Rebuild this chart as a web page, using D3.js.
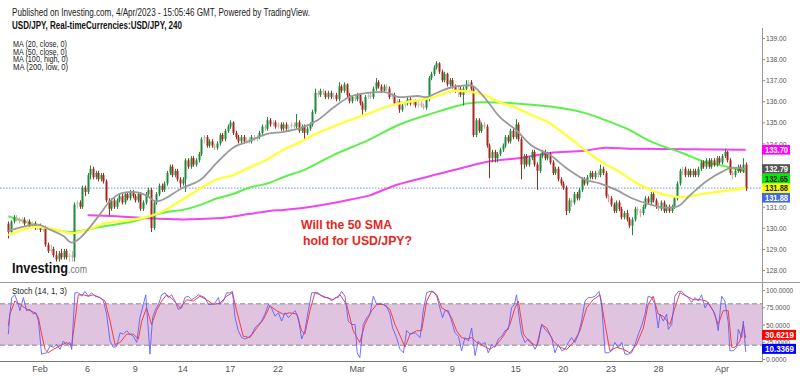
<!DOCTYPE html>
<html>
<head>
<meta charset="utf-8">
<script src="https://cdn.jsdelivr.net/npm/d3@7"></script>
<style>
  body { margin: 0; background: #fff; }
  svg { display: block; font-family: Arial, "Liberation Sans", sans-serif; }
</style>
</head>
<body>
<svg id="chart" width="800" height="376"></svg>
<script>
// ---- data (USD/JPY 4h candles, Jan 30 -> Apr 4 2023), [open, high, low, close]
const candles = [
  [130.2,130.3,129.5,129.8],[129.8,130.35,129.7,130.3],[130.3,130.6,130.2,130.5],[130.5,130.6,130.3,130.4],[130.4,130.5,130.2,130.3],[130.3,130.5,130.2,130.4],
  [130.4,130.5,130.1,130.2],[130.2,130.4,130.1,130.3],[130.3,130.4,130.0,130.1],[130.1,130.3,130.0,130.2],[130.2,130.3,129.9,130.0],[130.0,130.2,129.9,130.1],
  [130.1,130.2,129.8,129.9],[129.9,130.1,129.8,130.0],[130.0,130.1,129.1,129.2],[129.2,129.3,128.8,128.9],[128.9,129.2,128.8,129.0],[129.0,129.1,128.6,128.7],
  [128.7,128.9,128.4,128.5],[128.5,128.9,128.4,128.8],[128.8,129.0,128.5,128.6],[128.6,129.0,128.5,128.9],[128.9,129.0,128.5,128.6],[128.6,128.8,128.4,128.7],
  [128.7,128.9,128.4,128.6],[128.6,131.2,128.4,131.1],[131.1,131.3,130.9,131.2],[131.2,131.3,130.9,131.0],[131.0,132.0,130.9,131.9],[131.9,132.0,131.5,131.7],
  [131.7,132.6,131.6,132.5],[132.5,132.95,132.3,132.8],[132.8,132.9,132.3,132.4],[132.4,132.7,132.3,132.6],[132.6,132.7,132.2,132.3],[132.3,132.6,132.2,132.5],
  [132.5,132.6,132.1,132.2],[132.2,132.3,131.2,131.3],[131.3,131.4,130.6,130.9],[130.9,131.4,130.8,131.3],[131.3,131.4,130.9,131.0],[131.0,131.4,130.9,131.3],
  [131.3,131.6,131.2,131.5],[131.5,131.6,131.1,131.2],[131.2,131.7,131.1,131.6],[131.6,131.7,131.3,131.4],[131.4,131.8,131.3,131.7],[131.7,131.8,131.4,131.5],
  [131.5,131.6,131.2,131.3],[131.3,131.7,131.2,131.6],[131.6,131.7,130.8,130.9],[130.9,131.3,130.8,131.2],[131.2,131.7,131.1,131.6],[131.6,131.9,131.5,131.8],
  [131.8,131.9,129.8,130.0],[130.0,131.3,129.9,131.2],[131.2,131.7,131.1,131.6],[131.6,132.1,131.5,132.0],[132.0,132.1,131.7,131.8],[131.8,132.2,131.7,132.1],
  [132.1,132.7,132.0,132.6],[132.6,133.0,132.5,132.9],[132.9,133.0,132.4,132.5],[132.5,132.8,132.4,132.7],[132.7,132.8,132.2,132.3],[132.3,132.4,131.9,132.1],
  [132.1,132.4,132.0,132.3],[132.3,133.3,131.7,133.2],[133.2,133.3,132.8,132.9],[132.9,133.4,132.8,133.3],[133.3,133.4,132.9,133.0],[133.0,133.3,132.9,133.2],
  [133.2,133.6,133.1,133.5],[133.5,134.3,133.4,134.2],[134.2,134.4,134.0,134.3],[134.3,134.4,133.8,133.9],[133.9,134.2,133.8,134.1],[134.1,134.2,133.8,133.9],
  [133.9,134.0,133.7,133.8],[133.8,134.1,133.7,134.0],[134.0,134.5,133.9,134.4],[134.4,134.5,134.1,134.2],[134.2,134.7,134.1,134.6],[134.6,134.9,134.5,134.8],
  [134.8,135.1,134.7,135.0],[135.0,135.05,134.4,134.5],[134.5,134.6,134.2,134.3],[134.3,134.4,134.0,134.1],[134.1,134.4,134.0,134.3],[134.3,134.4,134.0,134.1],
  [134.1,134.3,134.0,134.2],[134.2,134.3,134.0,134.1],[134.1,134.4,134.0,134.3],[134.3,134.4,134.1,134.2],[134.2,134.4,134.1,134.3],[134.3,134.6,134.2,134.5],
  [134.5,134.9,134.4,134.8],[134.8,134.9,134.6,134.7],[134.7,135.25,134.6,135.1],[135.1,135.2,134.8,134.9],[134.9,135.1,134.8,135.0],[135.0,135.1,134.7,134.8],
  [134.8,135.0,134.7,134.9],[134.9,135.0,134.6,134.7],[134.7,135.0,134.6,134.9],[134.9,135.0,134.6,134.7],[134.7,134.9,134.6,134.8],[134.8,135.0,134.7,134.9],
  [134.9,135.0,134.7,134.8],[134.8,135.4,134.7,135.0],[135.0,135.1,134.5,134.6],[134.6,134.9,134.5,134.8],[134.8,134.9,134.2,134.5],[134.5,134.8,134.4,134.7],
  [134.7,135.0,134.6,134.9],[134.9,135.6,134.8,135.5],[135.5,136.6,135.4,136.4],[136.4,136.5,136.2,136.3],[136.3,136.6,136.2,136.5],[136.5,136.6,136.3,136.4],
  [136.4,136.5,136.1,136.2],[136.2,136.5,136.1,136.4],[136.4,136.5,136.1,136.2],[136.2,136.4,136.1,136.3],[136.3,136.4,136.0,136.1],[136.1,136.9,136.0,136.7],
  [136.7,136.8,136.4,136.5],[136.5,136.9,136.4,136.8],[136.8,136.85,136.2,136.3],[136.3,136.4,135.9,136.0],[136.0,136.3,135.9,136.2],[136.2,136.3,136.0,136.1],
  [136.1,136.4,136.0,136.3],[136.3,136.4,135.8,135.9],[135.9,136.0,135.35,135.6],[135.6,136.3,135.5,136.2],[136.2,136.45,136.1,136.3],[136.3,136.4,136.1,136.2],
  [136.2,136.7,136.1,136.6],[136.6,137.1,136.5,136.9],[136.9,137.0,136.6,136.7],[136.7,136.8,136.4,136.5],[136.5,136.8,136.4,136.7],[136.7,136.8,136.5,136.6],
  [136.6,136.7,136.1,136.2],[136.2,136.4,136.1,136.3],[136.3,136.4,135.8,135.9],[135.9,136.1,135.8,136.0],[136.0,136.1,135.45,135.6],[135.6,135.9,135.5,135.8],
  [135.8,136.0,135.7,135.9],[135.9,136.2,135.8,136.1],[136.1,136.2,135.8,135.9],[135.9,136.1,135.8,136.0],[136.0,136.1,135.7,135.8],[135.8,136.0,135.7,135.9],
  [135.9,136.0,135.7,135.8],[135.8,135.9,135.6,135.7],[135.7,136.2,135.6,136.1],[136.1,137.2,136.0,137.1],[137.1,137.4,137.0,137.3],[137.3,137.7,137.2,137.6],
  [137.6,137.9,137.5,137.8],[137.8,137.85,137.3,137.4],[137.4,137.5,136.9,137.0],[137.0,137.4,136.9,137.3],[137.3,137.35,136.7,136.8],[136.8,137.1,136.7,137.0],
  [137.0,137.1,136.6,136.7],[136.7,136.8,136.4,136.5],[136.5,136.7,136.2,136.6],[136.6,136.7,136.2,136.3],[136.3,136.7,135.8,136.6],[136.6,137.0,136.5,136.8],
  [136.8,137.0,136.7,136.9],[136.9,137.0,136.5,136.6],[136.6,136.7,134.3,134.4],[134.4,135.2,134.3,135.1],[135.1,135.2,134.5,134.6],[134.6,135.0,134.5,134.9],
  [134.9,135.0,134.7,134.8],[134.8,134.9,133.8,133.9],[133.9,134.0,132.35,133.3],[133.3,133.7,133.1,133.6],[133.6,133.7,133.1,133.3],[133.3,133.6,133.1,133.5],
  [133.5,133.8,133.4,133.7],[133.7,134.0,133.6,133.9],[133.9,134.4,133.8,134.3],[134.3,134.4,134.0,134.1],[134.1,134.7,134.0,134.6],[134.6,134.7,134.2,134.3],
  [134.3,135.15,134.2,134.9],[134.9,135.0,134.1,134.2],[134.2,134.3,132.3,133.0],[133.0,133.5,132.8,133.4],[133.4,133.5,132.9,133.0],[133.0,133.4,132.9,133.3],
  [133.3,133.7,133.2,133.6],[133.6,133.7,132.9,133.0],[133.0,133.1,131.8,132.7],[132.7,133.5,132.6,133.4],[133.4,133.7,133.3,133.6],[133.6,133.7,133.2,133.3],
  [133.3,133.6,133.2,133.5],[133.5,133.6,133.0,133.1],[133.1,133.2,132.5,132.6],[132.6,132.9,132.5,132.8],[132.8,132.9,132.2,132.3],[132.3,132.4,132.0,132.1],
  [132.1,132.2,131.8,131.9],[131.9,132.0,130.6,130.8],[130.8,131.4,130.7,131.3],[131.3,131.4,131.0,131.2],[131.2,131.7,131.1,131.6],[131.6,131.7,131.3,131.4],
  [131.4,131.9,131.3,131.8],[131.8,132.4,131.7,132.3],[132.3,132.4,132.0,132.1],[132.1,132.5,132.0,132.4],[132.4,132.7,132.3,132.6],[132.6,132.7,132.3,132.4],
  [132.4,132.7,132.3,132.6],[132.6,132.7,132.4,132.5],[132.5,133.0,132.4,132.8],[132.8,132.9,132.5,132.6],[132.6,132.7,131.4,131.5],[131.5,131.6,131.2,131.4],
  [131.4,131.5,131.0,131.1],[131.1,131.2,130.7,130.8],[130.8,131.3,130.7,131.2],[131.2,131.3,130.8,130.9],[130.9,131.0,130.4,130.5],[130.5,130.8,130.4,130.7],
  [130.7,130.85,130.3,130.4],[130.4,130.5,130.0,130.1],[130.1,130.5,129.65,130.4],[130.4,131.0,130.3,130.9],[130.9,131.0,130.6,130.8],[130.8,130.9,130.5,130.7],
  [130.7,131.1,130.6,131.0],[131.0,131.5,130.9,131.4],[131.4,131.5,131.1,131.2],[131.2,131.7,131.1,131.6],[131.6,131.7,131.2,131.3],[131.3,131.4,130.9,131.0],
  [131.0,131.2,130.8,130.9],[130.9,131.3,130.8,131.2],[131.2,131.3,130.7,130.8],[130.8,131.1,130.7,131.0],[131.0,131.1,130.7,130.8],[130.8,131.1,130.7,131.0],
  [131.0,131.5,130.9,131.4],[131.4,132.2,131.3,132.1],[132.1,132.8,132.0,132.7],[132.7,132.9,132.5,132.8],[132.8,132.9,132.4,132.5],[132.5,132.8,132.4,132.7],
  [132.7,132.8,132.4,132.5],[132.5,132.8,132.4,132.7],[132.7,132.8,132.4,132.5],[132.5,132.9,132.4,132.8],[132.8,133.2,132.7,133.1],[133.1,133.2,132.8,132.9],
  [132.9,133.3,132.8,133.2],[133.2,133.3,132.8,132.9],[132.9,133.3,132.8,133.2],[133.2,133.3,132.9,133.0],[133.0,133.4,132.9,133.3],[133.3,133.4,133.0,133.1],
  [133.1,133.5,133.0,133.4],[133.4,133.75,133.3,133.6],[133.6,133.65,133.1,133.2],[133.2,133.3,132.5,132.6],[132.6,132.7,132.3,132.5],[132.5,132.8,132.4,132.7],
  [132.7,133.0,132.6,132.9],[132.9,133.0,132.6,132.7],[132.7,133.3,132.6,133.0],[133.0,133.1,131.75,131.88]
];

// x-axis ticks: candle index of the first bar of the labelled day
const tickIdx = [12, 30, 48, 66, 84, 102, 132, 150, 168, 192, 210, 228, 246, 270];
const tickText = ["Feb", "6", "9", "14", "17", "22", "Mar", "6", "9", "15", "20", "23", "28", "Apr"];

// moving averages as [candle index, value]
const ma20 = [[0,129.85],[4,130.0],[11,130.15],[16,129.9],[21,129.6],[24,129.3],[27,129.5],[31,130.05],[35,130.7],[38,131.2],
  [43,131.65],[47,131.7],[52,131.55],[56,131.25],[66,131.9],[73,132.3],[79,133.1],[85,133.8],[91,134.1],[98,134.45],
  [104,134.55],[111,134.75],[117,135.1],[123,135.7],[129,136.2],[136,136.4],[142,136.45],[148,136.2],[155,136.25],[158,136.2],
  [163,136.45],[169,136.7],[175,136.75],[180,136.2],[186,135.25],[192,134.65],[198,133.9],[205,133.45],[211,132.85],[218,132.3],
  [224,132.1],[230,131.8],[236,131.4],[243,131.1],[249,130.95],[253,131.0],[258,131.55],[264,132.2],[270,132.65],[274,132.85],[279,132.79]];
const ma50 = [[0,129.65],[4,129.85],[11,130.05],[17,129.95],[24,129.75],[30,129.9],[36,130.2],[45,130.35],[52,130.5],[58,130.75],
  [66,131.35],[73,131.9],[79,132.3],[85,132.5],[91,132.85],[98,133.25],[104,133.7],[111,134.1],[117,134.5],[123,134.8],
  [129,135.1],[136,135.4],[142,135.7],[148,135.9],[155,136.05],[161,136.2],[169,136.5],[175,136.45],[180,136.3],[186,135.95],
  [192,135.7],[198,135.35],[205,134.95],[211,134.4],[218,133.7],[226,133.0],[230,132.75],[236,132.25],[243,131.8],[249,131.55],
  [255,131.45],[262,131.6],[268,131.7],[279,131.88]];
const ma100 = [[0,130.55],[9,130.2],[24,129.8],[35,130.05],[47,130.3],[60,130.75],[66,130.85],[73,131.1],[79,131.4],[85,131.6],
  [91,131.9],[98,132.1],[104,132.4],[112,132.75],[123,133.45],[136,134.15],[148,134.9],[161,135.45],[169,135.75],[174,135.9],
  [180,135.95],[192,135.9],[205,135.75],[218,135.45],[226,135.1],[234,134.7],[243,134.1],[255,133.55],[264,133.1],[272,132.9],[279,132.65]];
const ma200 = [[30,130.6],[41,130.55],[53,130.45],[66,130.4],[79,130.45],[91,130.65],[99,130.8],[104,130.85],[112,130.95],[130,131.35],
  [137,131.55],[145,131.95],[158,132.4],[169,132.75],[180,133.1],[196,133.35],[205,133.55],[218,133.65],[226,133.8],[236,133.75],[279,133.7]];

// stochastic (14,1,3): %K and %D as [candle index, value]
const stochK = [[0,36],[0.6,65],[1.3,89],[2.5,93],[3.8,79],[4.4,70],[5.7,89],[6.9,70],[8.2,72],[9.5,65],[10.5,67],[11.4,55],[12.6,7],
  [14.5,9],[15.8,19],[17,17],[18.3,21],[19.6,14],[20.8,26],[22.1,21],[23.3,24],[24,14],[25.2,96],[26.5,96],[27.8,91],[29,98],
  [30.3,91],[31.5,96],[32.8,91],[34.7,89],[36,84],[37.2,65],[38.5,26],[39.7,17],[41,18],[42.3,38],[43.5,36],[44.8,41],[46,36],
  [47.3,33],[48.6,24],[49.8,60],[51.1,79],[52,93],[53,41],[53.6,7],[54.6,60],[55.5,70],[56.8,79],[58,93],[59.3,96],[60.5,89],
  [61.8,93],[63.1,84],[64.3,72],[65.6,74],[66.8,89],[68.1,91],[69.4,86],[70.6,89],[71.9,93],[73.2,91],[74.4,89],[75.7,79],
  [76.9,79],[78.2,81],[79.5,89],[80.1,79],[81.4,84],[82.6,96],[83.9,96],[84.8,98],[85.8,60],[87,41],[88.3,31],[89.5,29],
  [90.8,31],[92.1,36],[93.3,45],[94.6,50],[95.8,55],[97.1,65],[98.4,79],[99.6,74],[100.9,62],[102.2,67],[103.4,55],[104.7,67],
  [106,60],[107.2,65],[108.5,70],[109.7,60],[111,29],[112.2,41],[113.5,70],[114.8,96],[116,96],[117.3,96],[118.5,91],[119.8,89],
  [121.1,89],[122.3,84],[123.6,89],[124.8,89],[126.1,98],[127.4,91],[128.6,55],[129.9,50],[131.2,50],[132,9],[133,2],[134.3,50],
  [135.6,60],[136.8,65],[138.1,91],[139.4,79],[140.6,81],[141.9,79],[143.1,77],[144.4,65],[145.4,45],[146.9,31],[148.2,14],
  [149.5,9],[150.7,41],[152,36],[153.9,38],[155.8,31],[157,70],[158.3,96],[159.5,98],[160.8,98],[162.1,91],[163.3,74],[164.3,60],
  [165.2,70],[166.5,70],[167.7,55],[169,38],[170.3,33],[171.5,12],[172.8,31],[174.1,26],[175.3,45],[176.6,5],[177.8,26],
  [179.1,21],[180.4,24],[181.6,9],[182.9,21],[184.1,17],[185.4,29],[186.7,33],[187.9,41],[189.2,43],[190.4,74],[191.5,79],
  [192.3,93],[193.3,60],[194.2,36],[195.5,24],[196.7,29],[198,24],[199.3,14],[200.5,24],[201.8,50],[203.1,43],[204.3,38],
  [205.6,31],[206.8,9],[208.1,21],[209.4,12],[210.6,14],[211.9,24],[213.1,31],[214.4,24],[215.7,36],[216.9,55],[218.2,84],
  [219.4,89],[220.7,89],[222,91],[223.5,98],[224.5,79],[225.8,9],[227,9],[228.3,12],[229.5,24],[230.8,17],[232.1,24],[233.3,7],
  [234.6,7],[235.8,9],[237.1,21],[238.4,36],[239.6,48],[240.9,65],[242.1,91],[243.4,89],[244.7,79],[245.9,45],[246.6,65],
  [247.8,55],[249.1,65],[249.7,43],[251,50],[252.2,91],[253.5,98],[254.8,98],[256,93],[257.3,89],[258.5,82],[259.8,89],
  [261.1,84],[262.3,93],[263.6,74],[264.8,82],[266.1,74],[267.4,65],[268.6,41],[269.9,91],[271.1,84],[272.4,53],[273,12],
  [274.3,12],[275.6,17],[276.2,43],[277.5,31],[278.1,55],[279,10.34]];
const stochD = [[0,48],[0.6,65],[2.5,84],[4.4,79],[6.3,74],[8.2,70],[10.1,67],[11.4,60],[12.6,36],[13.9,14],[15.1,9],[17,14],
  [19.6,19],[22.1,24],[24,19],[25.2,55],[26.5,93],[28.4,93],[30.3,91],[32.2,93],[34.7,89],[36.6,84],[38.5,55],[40.4,21],
  [42.3,24],[44.8,36],[47.3,36],[49.2,29],[50.5,55],[52.3,74],[54.2,50],[56.1,70],[58,84],[59.9,93],[62.4,86],[65,74],
  [67.5,86],[70,84],[72.5,91],[75,86],[77.6,79],[80.1,81],[82.6,91],[84.8,96],[86.4,70],[88.9,33],[91.4,31],[94,45],
  [96.5,57],[99,77],[101.5,70],[104,65],[106.6,67],[109.1,65],[111,41],[112.2,36],[114.1,70],[116,96],[117.9,93],[120.4,89],
  [123,86],[125.5,93],[128,79],[130.5,41],[133,24],[134.9,50],[137.5,70],[139.4,79],[141.9,79],[144.4,72],[146.3,50],[148.2,34],
  [150.1,17],[152,36],[154.5,41],[156.4,41],[158.3,84],[160.2,98],[162.1,93],[164,74],[165.9,70],[167.7,60],[169.6,41],
  [171.5,31],[173.4,29],[175.3,31],[177.2,24],[179.7,19],[182.2,14],[184.8,21],[187.3,33],[189.8,50],[191.7,74],[193,84],
  [194.9,36],[197.4,24],[199.9,19],[201.8,50],[203.7,45],[206.2,26],[208.7,17],[211.3,14],[213.8,24],[216.3,41],[218.8,74],
  [221.3,86],[223.9,93],[225.8,50],[227.6,12],[230.2,17],[232.7,14],[235.2,9],[237.7,21],[240.3,45],[242.1,79],[244,91],
  [245.9,65],[247.8,62],[250.3,50],[252.2,74],[254.1,96],[256.6,91],[259.2,86],[261.7,86],[264.2,84],[266.7,70],[268.6,50],
  [270.5,70],[272.4,70],[273.7,17],[274.9,17],[276.8,26],[278.1,50],[279,30.62]];

// last-value tags on the price axis
const priceTags = [133.70, 132.79, 132.65, 131.88, 131.88];
const stochTags = [30.6219, 10.3369];

const priceTicks = d3.range(128, 140, 1);
const stochTicks = [0, 25, 50, 75, 100];

const maLegend = ["MA (20, close, 0)", "MA (50, close, 0)", "MA (100, high, 0)", "MA (200, low, 0)"];

// ---- drawing
const svg = d3.select("#chart");
const W = 800, axisX = 762;

const x = d3.scaleLinear().domain([0, 279]).range([8.3, 745.7]);
const y = d3.scaleLinear().domain([128, 139]).range([270, 38]);
const ys = d3.scaleLinear().domain([0, 100]).range([359, 290]);

const gray = "#555";

// header texts
svg.append("text").attr("x", 12).attr("y", 16)
  .attr("font-size", 10).attr("fill", "#222")
  .attr("textLength", 298).attr("lengthAdjust", "spacingAndGlyphs")
  .text("Published on Investing.com, 4/Apr/2023 - 15:05:46 GMT, Powered by TradingView.");
svg.append("text").attr("x", 12).attr("y", 29)
  .attr("font-size", 10).attr("font-weight", "bold").attr("fill", "#111")
  .attr("textLength", 170).attr("lengthAdjust", "spacingAndGlyphs")
  .text("USD/JPY, Real-timeCurrencies:USD/JPY, 240");
svg.append("g").selectAll("text").data(maLegend).enter().append("text")
  .attr("x", 13).attr("y", (d, i) => 47 + i * 7.6)
  .attr("font-size", 9).attr("fill", "#222")
  .attr("textLength", (d, i) => i < 2 ? 54 : 55).attr("lengthAdjust", "spacingAndGlyphs")
  .text(d => d);

// stochastic band
svg.append("rect").attr("x", 0).attr("width", axisX)
  .attr("y", ys(80)).attr("height", ys(20) - ys(80))
  .attr("fill", "#dfc3df");
[80, 20].forEach(v => {
  svg.append("line").attr("x1", 0).attr("x2", axisX).attr("y1", ys(v)).attr("y2", ys(v))
    .attr("stroke", "#8a8a8a").attr("stroke-dasharray", "5,3");
});

// panel lines
svg.append("line").attr("x1", 0).attr("x2", W).attr("y1", 282.5).attr("y2", 282.5).attr("stroke", "#999");
svg.append("line").attr("x1", 0).attr("x2", axisX).attr("y1", 361.5).attr("y2", 361.5).attr("stroke", "#777");

// last price dotted line
const lastClose = candles[candles.length - 1][3];
svg.append("line").attr("x1", 0).attr("x2", axisX).attr("y1", y(lastClose)).attr("y2", y(lastClose))
  .attr("stroke", "#8fa7ee").attr("stroke-width", 1.2).attr("stroke-dasharray", "1.5,1.5");

// moving averages
const maLine = d3.line().x(d => x(d[0])).y(d => y(d[1])).curve(d3.curveMonotoneX);
const maStyles = [
  { data: ma200, color: "#f046f0", w: 2 },
  { data: ma100, color: "#5ef04a", w: 2 },
  { data: ma50, color: "#ffff3c", w: 2.4 },
  { data: ma20, color: "#9a9a9a", w: 1.8 }
];

// candles
const upC = "#1f8a3a", downC = "#a9271f", paleUp = "#b3cdb9", paleDown = "#d2aaa6";
const candleColor = d => {
  const body = Math.abs(d[3] - d[0]);
  if (d[3] >= d[0]) return body < 0.12 ? paleUp : upC;
  return body < 0.12 ? paleDown : downC;
};

maStyles.slice(0, 2).forEach(s => {
  svg.append("path").datum(s.data).attr("d", maLine)
    .attr("fill", "none").attr("stroke", s.color).attr("stroke-width", s.w);
});

const cg = svg.append("g");
cg.selectAll("line").data(candles).enter().append("line")
  .attr("x1", (d, i) => Math.round(x(i)) + 0.5).attr("x2", (d, i) => Math.round(x(i)) + 0.5)
  .attr("y1", d => y(d[1])).attr("y2", d => y(d[2]))
  .attr("stroke", candleColor).attr("stroke-width", 1);
cg.selectAll("rect").data(candles).enter().append("rect")
  .attr("x", (d, i) => Math.round(x(i)) - 0.5).attr("width", 2)
  .attr("y", d => y(Math.max(d[0], d[3])))
  .attr("height", d => Math.max(1, Math.abs(y(d[0]) - y(d[3]))))
  .attr("fill", candleColor);

maStyles.slice(2).forEach(s => {
  svg.append("path").datum(s.data).attr("d", maLine)
    .attr("fill", "none").attr("stroke", s.color).attr("stroke-width", s.w);
});

// stochastic lines
const sLine = d3.line().x(d => x(d[0])).y(d => ys(d[1]));
svg.append("path").datum(stochD).attr("d", sLine)
  .attr("fill", "none").attr("stroke", "#ff3b3b").attr("stroke-width", 1);
svg.append("path").datum(stochK).attr("d", sLine)
  .attr("fill", "none").attr("stroke", "#5a5aff").attr("stroke-width", 1).attr("opacity", 0.85);

svg.append("text").attr("x", 12).attr("y", 294)
  .attr("font-size", 9).attr("fill", "#222")
  .attr("textLength", 55).attr("lengthAdjust", "spacingAndGlyphs")
  .text("Stoch (14, 1, 3)");

// value tags, stacked so they do not overlap
const tagStyle = [
  { bg: "#ff00ff", fg: "#fff" }, { bg: "#555555", fg: "#fff" }, { bg: "#00ee00", fg: "#222" },
  { bg: "#ffff00", fg: "#222" }, { bg: "#4169e1", fg: "#fff" }
];
const tagH = 9.6;
let prevY = -100;
const priceTagPos = priceTags.map(v => {
  const cy = Math.max(y(v), prevY + tagH);
  prevY = cy;
  return cy;
});
let prevS = -100;
const stochTagPos = stochTags.map(v => {
  const cy = Math.max(ys(v) - 3, prevS + 12);
  prevS = cy;
  return cy;
});

// right axes (tick labels sitting under a tag are hidden by it, so they are left out)
const hidden = (py, tags, h) => tags.some(c => Math.abs(py - c) < h / 2 + 1);
const visiblePriceTicks = priceTicks.filter(v => !hidden(y(v), priceTagPos, tagH));
const fmtP = d3.format(".2f"), fmtS = d3.format(".4f");

const priceAxis = svg.append("g").attr("transform", `translate(${axisX},0)`)
  .call(d3.axisRight(y).tickValues(visiblePriceTicks).tickFormat(fmtP).tickSize(3).tickPadding(1));
const stochAxis = svg.append("g").attr("transform", `translate(${axisX},0)`)
  .call(d3.axisRight(ys).tickValues(stochTicks).tickFormat(fmtS).tickSize(3).tickPadding(1));
[priceAxis, stochAxis].forEach(a => {
  a.select(".domain").remove();
  a.selectAll("line").attr("stroke", "#888");
  a.selectAll("text").attr("fill", gray).attr("font-size", 8).attr("font-family", null)
    .attr("lengthAdjust", "spacingAndGlyphs")
    .attr("textLength", function () { return this.textContent.length * 3.4; });
});
svg.append("line").attr("x1", axisX + 0.5).attr("x2", axisX + 0.5).attr("y1", 28).attr("y2", 362)
  .attr("stroke", "#999");

priceTags.forEach((v, i) => {
  const cy = priceTagPos[i];
  svg.append("rect").attr("x", axisX).attr("y", cy - tagH / 2).attr("width", 28).attr("height", tagH)
    .attr("fill", tagStyle[i].bg);
  svg.append("text").attr("x", axisX + 3).attr("y", cy + 3.3)
    .attr("font-size", 9).attr("font-weight", "bold").attr("fill", tagStyle[i].fg)
    .attr("textLength", 23).attr("lengthAdjust", "spacingAndGlyphs")
    .text(fmtP(v));
});
const sTagBg = ["#ff0000", "#0000ff"];
stochTags.forEach((v, i) => {
  const cy = stochTagPos[i];
  svg.append("rect").attr("x", axisX).attr("y", cy - 5).attr("width", 34).attr("height", 10)
    .attr("fill", sTagBg[i]);
  svg.append("text").attr("x", axisX + 3).attr("y", cy + 3.4)
    .attr("font-size", 9).attr("font-weight", "bold").attr("fill", "#fff")
    .attr("textLength", 29).attr("lengthAdjust", "spacingAndGlyphs")
    .text(fmtS(v));
});

// x axis labels
svg.append("g").selectAll("text").data(tickIdx).enter().append("text")
  .attr("x", d => x(d)).attr("y", 372)
  .attr("text-anchor", "middle").attr("font-size", 9).attr("fill", gray)
  .text((d, i) => tickText[i]);

// watermark logo
svg.append("text").attr("x", 12).attr("y", 273)
  .attr("font-size", 14).attr("font-weight", "bold").attr("fill", "#111")
  .attr("textLength", 56).attr("lengthAdjust", "spacingAndGlyphs").text("Investing");
svg.append("text").attr("x", 68).attr("y", 273)
  .attr("font-size", 10).attr("fill", "#777")
  .attr("textLength", 19).attr("lengthAdjust", "spacingAndGlyphs").text(".com");

// annotation
const note = svg.append("g").attr("font-size", 13).attr("font-weight", "bold").attr("fill", "#e8261e");
note.append("text").attr("x", 301).attr("y", 229)
  .attr("textLength", 91).attr("lengthAdjust", "spacingAndGlyphs").text("Will the 50 SMA");
note.append("text").attr("x", 303).attr("y", 245)
  .attr("textLength", 109).attr("lengthAdjust", "spacingAndGlyphs").text("hold for USD/JPY?");
</script>
</body>
</html>
